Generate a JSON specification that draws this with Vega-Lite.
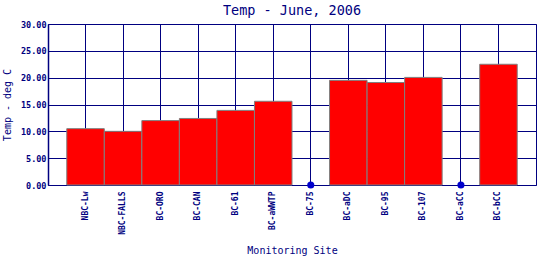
{
  "$schema": "https://vega.github.io/schema/vega-lite/v6.json",
  "autosize": "none",
  "width": 488,
  "height": 161,
  "padding": {"left": 48, "top": 24, "right": 4, "bottom": 75},
  "background": "white",
  "title": {
    "text": "Temp - June, 2006",
    "font": "DejaVu Sans Mono",
    "fontSize": 13.5,
    "fontWeight": "normal",
    "color": "#000080",
    "anchor": "middle",
    "baseline": "alphabetic",
    "frame": "group",
    "offset": -8
  },
  "config": {
    "view": {"stroke": "#000080", "strokeWidth": 1},
    "axis": {
      "labelFont": "DejaVu Sans Mono",
      "titleFont": "DejaVu Sans Mono",
      "labelColor": "#000080",
      "titleColor": "#000080",
      "domainColor": "#000080",
      "gridColor": "#000080",
      "gridOpacity": 1,
      "gridWidth": 1,
      "domainWidth": 1.5,
      "ticks": false,
      "labelFontWeight": "bold",
      "titleFontWeight": "normal",
      "titleFontSize": 10,
      "labelOverlap": false
    }
  },
  "data": {
    "values": [
      {"site": "NBC-Lw", "temp": 10.5},
      {"site": "NBC-FALLS", "temp": 10.0},
      {"site": "BC-ORO", "temp": 12.0},
      {"site": "BC-CAN", "temp": 12.4},
      {"site": "BC-61", "temp": 13.9},
      {"site": "BC-aWWTP", "temp": 15.6},
      {"site": "BC-75", "temp": null},
      {"site": "BC-aDC", "temp": 19.5},
      {"site": "BC-95", "temp": 19.1},
      {"site": "BC-107", "temp": 20.05},
      {"site": "BC-aCC", "temp": null},
      {"site": "BC-bCC", "temp": 22.5}
    ]
  },
  "encoding": {
    "x": {
      "field": "site",
      "type": "nominal",
      "scale": {
        "domain": ["NBC-Lw", "NBC-FALLS", "BC-ORO", "BC-CAN", "BC-61", "BC-aWWTP", "BC-75", "BC-aDC", "BC-95", "BC-107", "BC-aCC", "BC-bCC"],
        "paddingInner": 0,
        "paddingOuter": 0.5
      },
      "axis": {
        "title": "Monitoring Site",
        "labelAngle": -90,
        "labelFontSize": 8,
        "labelPadding": 6,
        "titlePadding": 11,
        "grid": true,
        "domain": false
      }
    }
  },
  "layer": [
    {
      "mark": {"type": "bar", "color": "#ff0000", "stroke": "#808080", "strokeWidth": 1},
      "encoding": {
        "y": {
          "field": "temp",
          "type": "quantitative",
          "scale": {"domain": [0, 30], "nice": false},
          "axis": {
            "title": "Temp - deg C",
            "values": [0, 5, 10, 15, 20, 25, 30],
            "format": ".2f",
            "labelFontSize": 8.5,
            "labelPadding": 2,
            "titlePadding": 8,
            "grid": true
          }
        }
      }
    },
    {
      "transform": [{"filter": "datum.temp == null"}],
      "mark": {"type": "point", "filled": true, "color": "#0000cc", "size": 50, "opacity": 1},
      "encoding": {
        "y": {
          "datum": 0,
          "type": "quantitative",
          "scale": {"domain": [0, 30], "nice": false},
          "axis": {
            "title": "Temp - deg C",
            "values": [0, 5, 10, 15, 20, 25, 30],
            "format": ".2f",
            "labelFontSize": 8.5,
            "labelPadding": 2,
            "titlePadding": 8,
            "grid": true
          }
        }
      }
    }
  ]
}
